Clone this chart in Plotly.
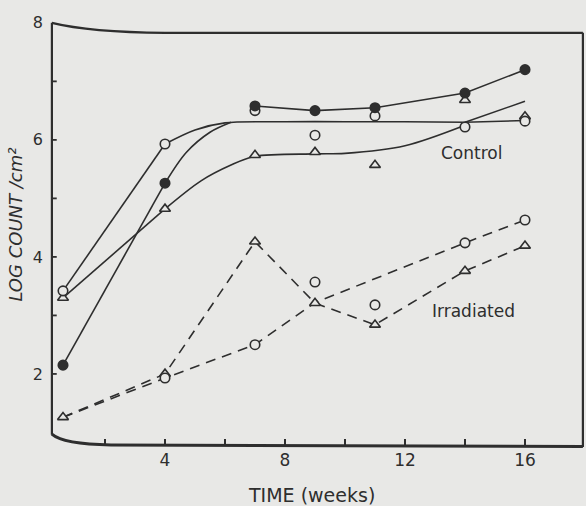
import plotly.graph_objects as go

# ---- data ----
weeks = [0.6, 4, 7, 9, 11, 14, 16]

ctrl_filled = [2.15, 5.26, 6.58, 6.50, 6.55, 6.80, 7.20]
ctrl_open = [3.42, 5.93, 6.50, 6.08, 6.41, 6.22, 6.32]
ctrl_tri = [3.30, 4.82, 5.74, 5.79, 5.57, 6.68, 6.40]

irr_open = [None, 1.93, 2.50, 3.57, 3.18, 4.24, 4.63]
irr_tri = [1.26, 2.00, 4.26, 3.21, 2.84, 3.76, 4.19]

# hand-drawn fitted curves (control, solid)
fit_open_rise_x = [0.6, 4]
fit_open_rise_y = [3.42, 5.93]
fit_open_x = [4, 5, 6, 8, 10, 12, 14]
fit_open_y = [5.93, 6.17, 6.29, 6.31, 6.31, 6.31, 6.30]
fit_open_flat_x = [14, 16]
fit_open_flat_y = [6.30, 6.33]
fit_open_up_x = [14, 16]
fit_open_up_y = [6.30, 6.66]

fit_filled_rise_x = [0.6, 4]
fit_filled_rise_y = [2.15, 5.26]
fit_filled_curve_x = [4, 4.7, 5.5, 6.2]
fit_filled_curve_y = [5.26, 5.78, 6.13, 6.30]

fit_tri_rise_x = [0.6, 4]
fit_tri_rise_y = [3.30, 4.82]
fit_tri_curve_x = [4, 5.2, 6.2, 7, 9, 10, 12, 14]
fit_tri_curve_y = [4.82, 5.30, 5.57, 5.72, 5.76, 5.77, 5.90, 6.25]

# irradiated, dashed
fit_irr_open_x = [0.6, 4, 7, 9, 14, 16]
fit_irr_open_y = [1.26, 1.93, 2.50, 3.22, 4.24, 4.63]

y_ticks = [2, 3, 4, 5, 6, 7, 8]
y_ticktext = ["2", "", "4", "", "6", "", "8"]
x_ticks = [2, 4, 6, 8, 10, 12, 14, 16]
x_ticktext = ["", "4", "", "8", "", "12", "", "16"]

INK = "#2e2e2e"
BG = "#e8e8e6"
FONT = "DejaVu Sans"

X_RANGE = [0.1, 18.0]
Y_RANGE = [0.7, 8.1]
X_AXIS_AT = 0.23   # where the hand-drawn y axis stands
Y_AXIS_AT = 0.78   # where the hand-drawn x axis lies
X_RIGHT = 17.93
Y_TOP = 7.83
YAX_POS = (X_AXIS_AT - X_RANGE[0]) / (X_RANGE[1] - X_RANGE[0])
XAX_POS = (Y_AXIS_AT - Y_RANGE[0]) / (Y_RANGE[1] - Y_RANGE[0])

fig = go.Figure()

def line(x, y, dash="solid", shape="linear"):
    fig.add_trace(go.Scatter(x=x, y=y, mode="lines",
                             line=dict(color=INK, width=1.6, dash=dash, shape=shape, smoothing=0.9),
                             hoverinfo="skip"))

# solid control curves
line(fit_open_rise_x, fit_open_rise_y)
line(fit_open_x, fit_open_y, shape="spline")
line(fit_open_flat_x, fit_open_flat_y)
line(fit_open_up_x, fit_open_up_y)
line(fit_filled_rise_x, fit_filled_rise_y)
line(fit_filled_curve_x, fit_filled_curve_y, shape="spline")
line(weeks[2:], ctrl_filled[2:])
line(fit_tri_rise_x, fit_tri_rise_y)
line(fit_tri_curve_x, fit_tri_curve_y, shape="spline")

# dashed irradiated curves
line(weeks, irr_tri, dash="10px,7px")
line(fit_irr_open_x, fit_irr_open_y, dash="10px,7px")

def markers(x, y, symbol, filled):
    fig.add_trace(go.Scatter(x=x, y=y, mode="markers",
                             marker=dict(symbol=symbol, size=9.5,
                                         color=INK if filled else BG,
                                         line=dict(color=INK, width=1.6))))

markers(weeks, ctrl_tri, "triangle-up", False)
markers(weeks, irr_tri, "triangle-up", False)
markers(weeks, ctrl_open, "circle", False)
markers(weeks, irr_open, "circle", False)
markers(weeks, ctrl_filled, "circle", True)

# hand-drawn frame
frame = dict(color=INK, width=2.2)
fig.add_shape(type="line", xref="paper", yref="y", x0=YAX_POS, x1=YAX_POS,
              y0=0.96, y1=8.0, line=frame, layer="above")
fig.add_shape(type="line", xref="x", yref="y", x0=X_RIGHT, x1=X_RIGHT,
              y0=Y_AXIS_AT - 0.03, y1=Y_TOP, line=frame)
fig.add_shape(type="path", xref="x", yref="y",
              path="M 0.23,8.0 Q 1.5,7.84 4,7.83 L 17.93,7.83",
              line=frame)
fig.add_shape(type="path", xref="x", yref="y",
              path="M 0.23,0.97 Q 0.6,0.80 2.2,0.785 L 17.93,0.76",
              line=dict(color=INK, width=3))
# small inward ticks on the y axis
for yt in y_ticks[:-1]:
    fig.add_shape(type="line", xref="paper", yref="y", x0=YAX_POS, x1=YAX_POS + 0.009,
                  y0=yt, y1=yt, line=dict(color=INK, width=1.8))

fig.add_annotation(x=14.2, y=5.77, text="Control", showarrow=False,
                   font=dict(family=FONT, size=17, color=INK))
fig.add_annotation(x=14.27, y=3.08, text="Irradiated", showarrow=False,
                   font=dict(family=FONT, size=17, color=INK))
fig.add_annotation(xref="paper", yref="paper", x=0.49, y=-0.105,
                   xanchor="center", yanchor="middle",
                   text="TIME (weeks)", showarrow=False,
                   font=dict(family=FONT, size=19, color=INK))
fig.add_annotation(xref="paper", yref="paper", x=-0.06, y=0.52,
                   xanchor="center", yanchor="middle",
                   text="LOG COUNT /cm²", textangle=-90, showarrow=False,
                   font=dict(family=FONT, size=18, color=INK, style="italic"))

fig.update_layout(
    width=586, height=506,
    margin=dict(l=48, r=1, t=17, b=56),
    paper_bgcolor=BG, plot_bgcolor=BG,
    showlegend=False,
    xaxis=dict(range=X_RANGE, showgrid=False, zeroline=False, showline=False,
               automargin=False, anchor="free", position=XAX_POS,
               tickvals=x_ticks, ticktext=x_ticktext, ticks="inside", ticklen=6,
               tickwidth=1.8, tickcolor=INK, ticklabelstandoff=3,
               tickfont=dict(family=FONT, size=17, color=INK)),
    yaxis=dict(range=Y_RANGE, showgrid=False, zeroline=False, showline=False,
               automargin=False, anchor="free", position=YAX_POS,
               tickvals=y_ticks, ticktext=y_ticktext, ticks="",
               ticklabelstandoff=9,
               tickfont=dict(family=FONT, size=16, color=INK)),
)

fig.write_html(
    "out.html",
    config={"displayModeBar": False, "staticPlot": True},
    post_script="document.body.style.margin='0';"
                "document.body.style.overflow='hidden';"
                "document.body.style.background='" + BG + "';",
)
